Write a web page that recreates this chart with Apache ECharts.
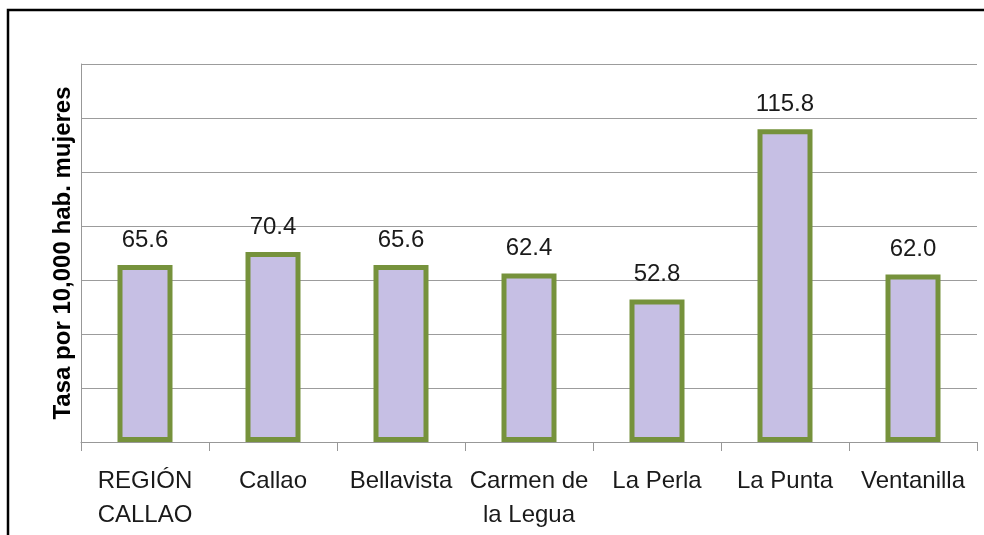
<!DOCTYPE html>
<html>
<head>
<meta charset="utf-8">
<script src="https://cdn.jsdelivr.net/npm/echarts@6/dist/echarts.min.js"></script>
<style>html,body{margin:0;padding:0;background:#fff;}#c{width:984px;height:535px;}</style>
</head>
<body>
<div id="c"></div>
<script>
var categories = ['REGIÓN\nCALLAO', 'Callao', 'Bellavista', 'Carmen de\nla Legua', 'La Perla', 'La Punta', 'Ventanilla'];
var values = [65.6, 70.4, 65.6, 62.4, 52.8, 115.8, 62.0];
var yAxisName = 'Tasa por 10,000 hab. mujeres';

var chart = echarts.init(document.getElementById('c'));
chart.setOption({
  animation: false,
  backgroundColor: '#fff',
  grid: { left: 81, right: 7, top: 64, bottom: 93 },
  graphic: [{
    type: 'rect',
    shape: { x: 8, y: 10, width: 1100, height: 700 },
    style: { fill: 'none', stroke: '#000', lineWidth: 2.5 },
    silent: true
  }],
  xAxis: {
    type: 'category',
    data: categories,
    axisLine: { lineStyle: { color: '#989898', width: 1 } },
    axisTick: { show: true, length: 9, alignWithLabel: false, lineStyle: { color: '#989898' } },
    axisLabel: {
      interval: 0,
      margin: 22,
      color: '#1a1a1a',
      fontFamily: 'Liberation Sans',
      fontSize: 24,
      lineHeight: 34
    }
  },
  yAxis: {
    type: 'value',
    min: 0, max: 140, interval: 20,
    name: yAxisName,
    nameLocation: 'middle',
    nameGap: 6,
    nameTextStyle: { fontFamily: 'Liberation Sans', fontWeight: 'bold', fontSize: 24, color: '#000' },
    axisLine: { show: true, lineStyle: { color: '#989898', width: 1 } },
    axisTick: { show: false },
    axisLabel: { show: false },
    splitLine: { show: true, lineStyle: { color: '#9c9c9c', width: 1 } }
  },
  series: [{
    type: 'bar',
    data: values,
    barWidth: 55,
    itemStyle: { color: '#c6bfe4', borderColor: '#76923c', borderWidth: 5 },
    label: {
      show: true,
      position: 'top',
      distance: 13,
      formatter: function (p) { return p.value.toFixed(1); },
      fontFamily: 'Liberation Sans',
      fontSize: 24,
      color: '#1a1a1a'
    }
  }]
});
</script>
</body>
</html>
